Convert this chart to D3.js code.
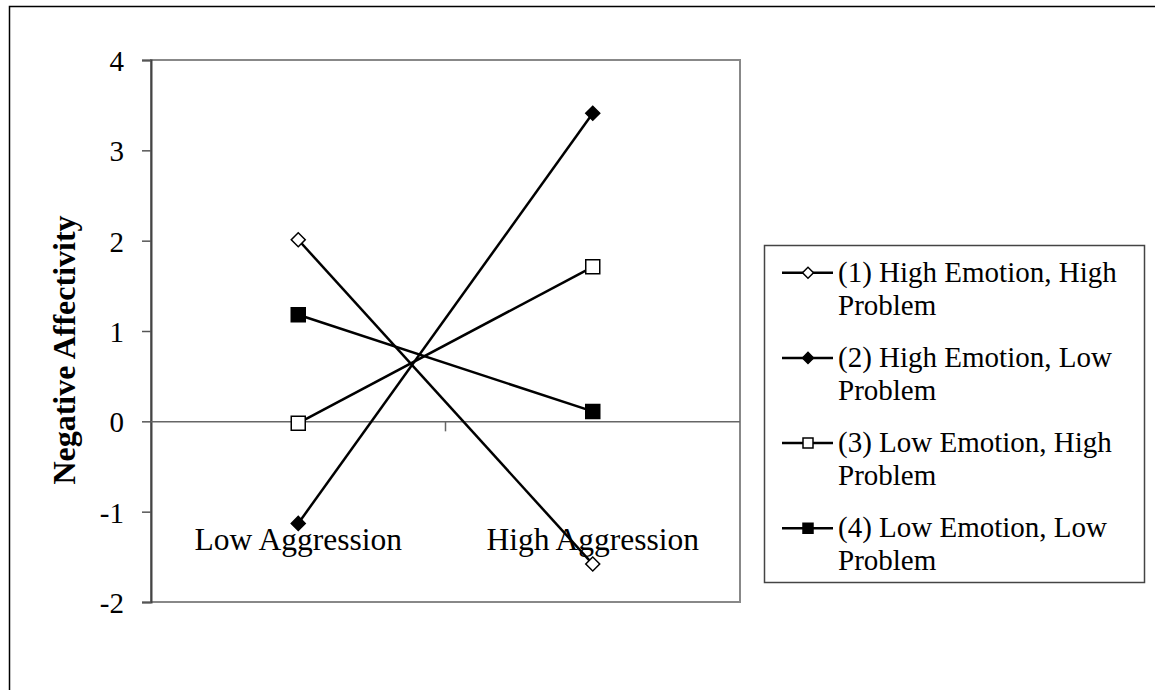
<!DOCTYPE html>
<html><head><meta charset="utf-8">
<script src="https://cdn.jsdelivr.net/npm/d3@7"></script>
<style>html,body{margin:0;padding:0;background:#fff;}svg{display:block;}</style>
</head><body>
<svg id="chart" width="1155" height="690"></svg>
<script>
const categories = ["Low Aggression", "High Aggression"];
const seriesNames = ["(1) High Emotion, High Problem", "(2) High Emotion, Low Problem", "(3) Low Emotion, High Problem", "(4) Low Emotion, Low Problem"];
const legendLines = [["(1) High Emotion, High", "Problem"], ["(2) High Emotion, Low", "Problem"], ["(3) Low Emotion, High", "Problem"], ["(4) Low Emotion, Low", "Problem"]];
const series1 = [2.01, -1.58];
const series2 = [-1.13, 3.41];
const series3 = [-0.02, 1.71];
const series4 = [1.18, 0.11];
const yTicks = [-2, -1, 0, 1, 2, 3, 4];
const markerShapes = ["diamond", "diamond", "square", "square"];
const markerFills = ["#fff", "#000", "#fff", "#000"];
const allSeries = [series1, series2, series3, series4];

const svg = d3.select("#chart");
const font = "'Liberation Serif','Times New Roman',Times,serif";

// outer frame
svg.append("path").attr("d", "M9.5,690 V6.5 H1155").attr("fill", "none").attr("stroke", "#000").attr("stroke-width", 1.5);

const L = 151, R = 740, T = 60, B = 602;
const x = d3.scaleBand().domain(categories).range([L, R]).padding(0);
const y = d3.scaleLinear().domain([-2, 4]).range([B, T]);
const cx = c => x(c) + x.bandwidth() / 2;

// plot border
svg.append("rect").attr("x", L).attr("y", T).attr("width", R - L).attr("height", B - T)
  .attr("fill", "none").attr("stroke", "#888").attr("stroke-width", 2);

// y axis
const yAxis = d3.axisLeft(y).tickValues(yTicks).tickSize(9).tickFormat("");
const gy = svg.append("g").attr("transform", `translate(${L},0)`).call(yAxis);
gy.select(".domain").attr("stroke", "#444").attr("stroke-width", 2);
gy.selectAll(".tick line").attr("stroke", "#555").attr("stroke-width", 1.5);

yTicks.forEach(t => {
  svg.append("text").attr("x", 124).attr("y", y(t) + 11)
    .attr("text-anchor", "end").attr("font-family", font).attr("font-size", 29).attr("fill", "#000").text(t);
});

// zero line with category axis
const xAxis = d3.axisBottom(x).tickSize(10).tickFormat("");
const gx = svg.append("g").attr("transform", `translate(0,${y(0)})`).call(xAxis);
gx.select(".domain").attr("stroke", "#666").attr("stroke-width", 1.5).attr("d", `M${L},0.5H${R}`);
gx.selectAll(".tick").remove();
gx.append("line").attr("x1", x(categories[1])).attr("x2", x(categories[1])).attr("y1", 0).attr("y2", 10)
  .attr("stroke", "#666").attr("stroke-width", 1.5);

// category labels
categories.forEach(c => {
  svg.append("text").attr("x", cx(c)).attr("y", 550)
    .attr("text-anchor", "middle").attr("font-family", font).attr("font-size", 31.5).attr("fill", "#000").text(c);
});

// y label
svg.append("text").attr("transform", "translate(75,350) rotate(-90)")
  .attr("text-anchor", "middle").attr("font-family", font).attr("font-size", 32).attr("font-weight", "bold")
  .attr("fill", "#000").text("Negative Affectivity");

function marker(g, shape, fill, size) {
  if (shape === "diamond") {
    g.append("path").attr("d", d3.symbol(d3.symbolSquare, size * size / 2)()).attr("transform", "rotate(45)")
      .attr("fill", fill).attr("stroke", "#000").attr("stroke-width", 1.5);
  } else {
    g.append("path").attr("d", d3.symbol(d3.symbolSquare, size * size)())
      .attr("fill", fill).attr("stroke", "#000").attr("stroke-width", 1.5);
  }
}

const line = d3.line().x((d, i) => cx(categories[i])).y(d => y(d));
allSeries.forEach((s, k) => {
  svg.append("path").attr("d", line(s)).attr("fill", "none").attr("stroke", "#000").attr("stroke-width", 2.5);
});
allSeries.forEach((s, k) => {
  s.forEach((v, i) => {
    const g = svg.append("g").attr("transform", `translate(${cx(categories[i])},${y(v)})`);
    marker(g, markerShapes[k], markerFills[k], 14);
  });
});

// legend
svg.append("rect").attr("x", 764.5).attr("y", 245.5).attr("width", 380).attr("height", 337)
  .attr("fill", "#fff").attr("stroke", "#444").attr("stroke-width", 1.5);
legendLines.forEach((lines, k) => {
  const my = 272.7 + k * 85.2;
  svg.append("line").attr("x1", 782).attr("x2", 833).attr("y1", my).attr("y2", my).attr("stroke", "#000").attr("stroke-width", 2.5);
  const g = svg.append("g").attr("transform", `translate(808,${my})`);
  marker(g, markerShapes[k], markerFills[k], markerShapes[k] === "diamond" ? 11 : 10);
  lines.forEach((t, j) => {
    svg.append("text").attr("x", 838).attr("y", my + 9 + j * 33)
      .attr("font-family", font).attr("font-size", 29).attr("fill", "#000").text(t);
  });
});
</script>
</body></html>
